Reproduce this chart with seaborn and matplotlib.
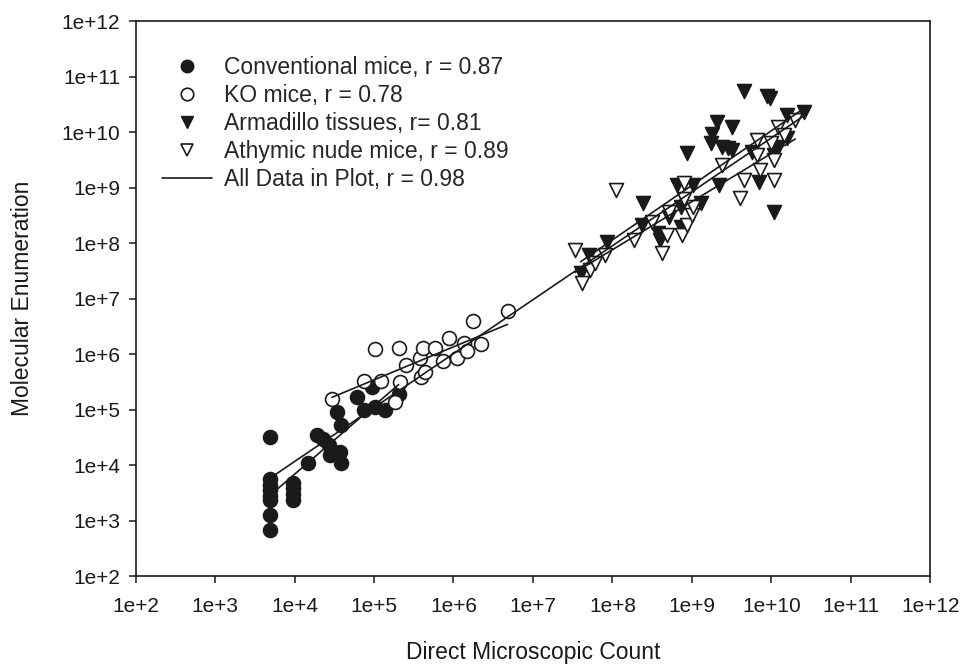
import numpy as np
import seaborn as sns
import matplotlib
matplotlib.use('Agg')
import matplotlib.pyplot as plt
from matplotlib.lines import Line2D
from matplotlib.ticker import FixedLocator, FuncFormatter, NullLocator

# valores em log10
conv_x = [3.69, 3.69, 3.69, 3.69, 3.69, 3.69, 3.69, 3.69,
          3.985, 3.985, 3.985, 3.985,
          4.17, 4.28, 4.36, 4.43, 4.45, 4.57, 4.59, 4.53, 4.59,
          4.78, 4.87, 5.01, 5.14, 4.97, 5.31]
conv_y = [4.51, 3.75, 3.65, 3.55, 3.45, 3.38, 3.10, 2.83,
          3.68, 3.58, 3.48, 3.37,
          4.03, 4.54, 4.48, 4.36, 4.18, 4.24, 4.03, 4.96, 4.72,
          5.23, 4.99, 5.05, 4.99, 5.41, 5.29]

ko_x = [4.47, 4.87, 5.09, 5.01, 5.31, 5.33, 5.27, 5.40, 5.58, 5.62, 5.59,
        5.64, 5.77, 5.87, 5.94, 6.04, 6.13, 6.17, 6.34, 6.24, 6.68]
ko_y = [5.19, 5.52, 5.52, 6.09, 6.12, 5.50, 5.14, 5.81, 5.94, 6.11, 5.59,
        5.68, 6.12, 5.88, 6.29, 5.93, 6.20, 6.05, 6.18, 6.60, 6.77]

arma_x = [9.66, 9.98, 9.95, 10.41, 10.20, 9.32, 9.50, 9.25, 9.24, 9.38,
          9.46, 9.51, 8.94, 10.20, 10.09, 9.76, 10.03, 9.34, 9.84, 10.03,
          8.81, 9.02, 9.11, 8.86, 8.39, 8.37, 8.58, 8.60, 8.71, 8.86,
          7.93, 7.70, 7.60]
arma_y = [10.75, 10.61, 10.65, 10.37, 10.31, 10.19, 10.10, 9.97, 9.80, 9.73,
          9.71, 9.68, 9.62, 9.89, 9.74, 9.65, 9.59, 9.05, 9.11, 8.57,
          9.05, 9.05, 8.72, 8.66, 8.73, 8.33, 8.18, 8.06, 8.48, 8.30,
          8.03, 7.79, 7.46]

nude_x = [8.05, 7.53, 7.62, 7.72, 7.78, 7.91, 8.27, 8.50, 8.62, 8.69,
          8.71, 8.88, 8.94, 9.00, 9.02, 8.90, 8.90, 9.38, 9.61, 9.65,
          10.03, 9.86, 10.03, 9.82, 9.99, 10.09, 10.16, 9.82, 10.30]
nude_y = [8.96, 7.87, 7.29, 7.52, 7.65, 7.79, 8.06, 8.39, 7.82, 8.15,
          8.57, 8.15, 8.33, 8.51, 8.66, 8.79, 9.08, 9.41, 8.81, 9.14,
          9.14, 9.32, 9.50, 9.86, 9.80, 10.10, 9.95, 9.59, 10.22]

rotulos = ['Conventional mice, r = 0.87', 'KO mice, r = 0.78',
           'Armadillo tissues, r= 0.81', 'Athymic nude mice, r = 0.89',
           'All Data in Plot, r = 0.98']

sns.set_style('white')
plt.rcParams['font.family'] = ['Liberation Sans', 'DejaVu Sans']

fig = plt.figure(figsize=(9.62, 6.66), dpi=100)
ax = fig.add_axes([0.141, 0.135, 0.826, 0.833])

tinta = '#1a1a1a'
grupos = [
    (conv_x, conv_y, 'o', tinta),
    (ko_x, ko_y, 'o', 'white'),
    (arma_x, arma_y, 'v', tinta),
    (nude_x, nude_y, 'v', 'white'),
]

for gx, gy, mk, cor in grupos:
    sns.scatterplot(x=10 ** np.array(gx), y=10 ** np.array(gy), ax=ax,
                    marker=mk, s=100, color=cor, edgecolor=tinta,
                    linewidth=1.2, legend=False, zorder=2)


def linha_regressao(lx, ly):
    lx = np.array(lx)
    ly = np.array(ly)
    a, b = np.polyfit(lx, ly, 1)
    xs = np.array([lx.min(), lx.max()])
    ax.plot(10 ** xs, 10 ** (a * xs + b), color=tinta, lw=1.2, zorder=3)


for gx, gy, _, _ in grupos:
    linha_regressao(gx, gy)
linha_regressao(conv_x + ko_x + arma_x + nude_x,
                conv_y + ko_y + arma_y + nude_y)

ax.set_xscale('log')
ax.set_yscale('log')
ax.set_xlim(1e2, 1e12)
ax.set_ylim(1e2, 1e12)

decadas = [10.0 ** k for k in range(2, 13)]
fmt = FuncFormatter(lambda v, p: f'1e+{int(round(np.log10(v)))}')
for eixo in (ax.xaxis, ax.yaxis):
    eixo.set_major_locator(FixedLocator(decadas))
    eixo.set_minor_locator(NullLocator())
    eixo.set_major_formatter(fmt)

ax.tick_params(axis='both', direction='out', length=5, width=1.1,
               color=tinta, labelsize=15, labelcolor=tinta,
               bottom=True, left=True)
ax.tick_params(axis='x', pad=10)
ax.tick_params(axis='y', pad=6)
for sp in ax.spines.values():
    sp.set_color(tinta)
    sp.set_linewidth(1.2)

ax.set_xlabel('Direct Microscopic Count', fontsize=16.5, color=tinta, labelpad=18)
ax.set_ylabel('Molecular Enumeration', fontsize=16.5, color=tinta, labelpad=20)

handles = [
    Line2D([], [], ls='none', marker='o', ms=9, mfc=tinta, mec=tinta),
    Line2D([], [], ls='none', marker='o', ms=9, mfc='white', mec=tinta, mew=1.2),
    Line2D([], [], ls='none', marker='v', ms=9, mfc=tinta, mec=tinta),
    Line2D([], [], ls='none', marker='v', ms=9, mfc='white', mec=tinta, mew=1.2),
    Line2D([], [], color=tinta, lw=1.2),
]
ax.legend(handles, rotulos, loc='upper left', bbox_to_anchor=(0.013, 0.967),
          frameon=False, fontsize=16.5, handlelength=2.2, handletextpad=0.5,
          labelspacing=0.22, borderaxespad=0.3)

plt.savefig('out.png', dpi=100)
plt.close()
